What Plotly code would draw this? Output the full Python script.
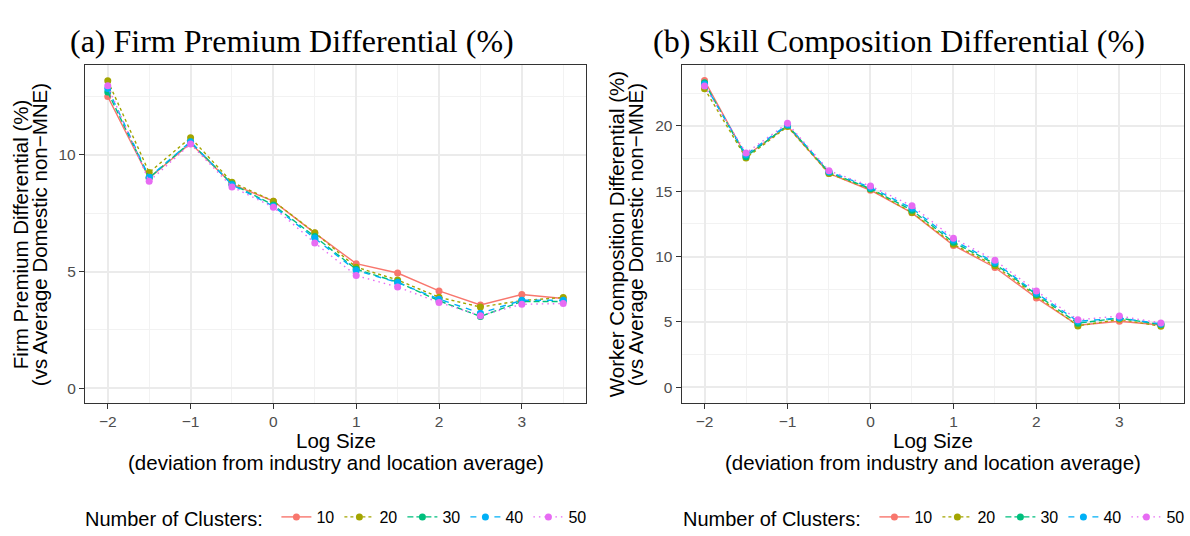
import plotly.graph_objects as go

x_vals = [-2, -1.5, -1, -0.5, 0, 0.5, 1, 1.5, 2, 2.5, 3, 3.5]
clusters = ["10", "20", "30", "40", "50"]

fp_10 = [12.50, 9.00, 10.50, 8.75, 8.02, 6.65, 5.34, 4.94, 4.17, 3.57, 4.02, 3.85]
fp_20 = [13.18, 9.25, 10.74, 8.83, 8.02, 6.67, 5.19, 4.64, 3.90, 3.48, 3.76, 3.89]
fp_30 = [12.70, 9.02, 10.55, 8.75, 7.85, 6.50, 5.10, 4.55, 3.75, 3.08, 3.72, 3.72]
fp_40 = [12.85, 9.04, 10.57, 8.72, 7.80, 6.44, 5.05, 4.53, 3.82, 3.22, 3.77, 3.77]
fp_50 = [12.96, 8.87, 10.47, 8.63, 7.76, 6.23, 4.83, 4.34, 3.68, 3.11, 3.60, 3.63]

sc_10 = [23.48, 17.70, 20.00, 16.36, 15.08, 13.35, 10.86, 9.17, 6.84, 4.75, 5.05, 4.77]
sc_20 = [22.85, 17.55, 19.95, 16.36, 15.15, 13.38, 10.95, 9.30, 7.00, 4.70, 5.20, 4.67]
sc_30 = [23.30, 17.65, 20.05, 16.45, 15.20, 13.55, 11.10, 9.45, 7.10, 4.90, 5.30, 4.80]
sc_40 = [23.20, 17.80, 20.10, 16.50, 15.30, 13.70, 11.25, 9.55, 7.20, 5.05, 5.30, 4.85]
sc_50 = [23.05, 17.93, 20.20, 16.57, 15.40, 13.89, 11.41, 9.72, 7.37, 5.17, 5.45, 4.92]

fp_series = [fp_10, fp_20, fp_30, fp_40, fp_50]
sc_series = [sc_10, sc_20, sc_30, sc_40, sc_50]

colors = ["#F8766D", "#A3A500", "#00BF7D", "#00B0F6", "#E76BF3"]
dashes = ["solid", "3px,3px", "6px,3px", "6px,6px", "1.5px,4px"]

W, H = 1190, 536
SANS = "Liberation Sans, Arial, sans-serif"
SERIF = "Liberation Serif, Times New Roman, serif"


def px(v):
    return v / W


def py(v):
    return 1 - v / H


fig = go.Figure()

for i, c in enumerate(clusters):
    fig.add_trace(go.Scatter(
        x=x_vals, y=fp_series[i], mode="lines+markers", name=c,
        line=dict(color=colors[i], width=1.4, dash=dashes[i]),
        marker=dict(color=colors[i], size=7),
        xaxis="x", yaxis="y", legend="legend"))
for i, c in enumerate(clusters):
    fig.add_trace(go.Scatter(
        x=x_vals, y=sc_series[i], mode="lines+markers", name=c,
        line=dict(color=colors[i], width=1.4, dash=dashes[i]),
        marker=dict(color=colors[i], size=7),
        xaxis="x2", yaxis="y2", legend="legend2"))

axis_common = dict(
    showline=True, mirror=True, linecolor="#333333", linewidth=1.3,
    ticks="outside", ticklen=5, tickwidth=1.3, tickcolor="#333333",
    tickfont=dict(family=SANS, size=15.5, color="#4D4D4D"),
    showgrid=True, gridcolor="#EBEBEB", gridwidth=1.6,
    zeroline=False,
)
minor_grid = dict(dtick=0.5, tick0=0, showgrid=True, gridcolor="#F2F2F2", gridwidth=1)
minor_grid_y = dict(dtick=2.5, tick0=0, showgrid=True, gridcolor="#F2F2F2", gridwidth=1)

legend_common = dict(
    orientation="h", y=py(521), yanchor="middle", xanchor="left",
    title=dict(text="Number of Clusters:\u00a0", side="left",
               font=dict(family=SANS, size=20, color="black")),
    font=dict(family=SANS, size=16, color="black"),
    entrywidth=18, entrywidthmode="pixels", itemwidth=30,
    bgcolor="rgba(0,0,0,0)",
)

fig.update_layout(
    width=W, height=H,
    margin=dict(l=0, r=0, t=0, b=0),
    paper_bgcolor="white", plot_bgcolor="white",
    showlegend=True,
    xaxis=dict(domain=[px(85), px(586)], range=[-2.275, 3.775],
               tickvals=[-2, -1, 0, 1, 2, 3], minor=minor_grid,
               anchor="y", **axis_common),
    yaxis=dict(domain=[py(405), py(65.7)], range=[-0.62, 13.84],
               tickvals=[0, 5, 10], minor=minor_grid_y,
               anchor="x", **axis_common),
    xaxis2=dict(domain=[px(681.7), px(1183.7)], range=[-2.275, 3.775],
                tickvals=[-2, -1, 0, 1, 2, 3], minor=minor_grid,
                anchor="y2", **axis_common),
    yaxis2=dict(domain=[py(405), py(65.7)], range=[-1.18, 24.64],
                tickvals=[0, 5, 10, 15, 20], minor=minor_grid_y,
                anchor="x2", **axis_common),
    legend=dict(x=px(83), **legend_common),
    legend2=dict(x=px(681), **legend_common),
)

# zero reference line
for xr, yr in [("x", "y"), ("x2", "y2")]:
    fig.add_shape(type="line", xref=f"{xr} domain", yref=yr, x0=0, x1=1, y0=0, y1=0,
                  line=dict(color="#BEBEBE", width=1.6), layer="below")

title_font = dict(family=SERIF, size=32, color="black")
lab_font = dict(family=SANS, size=20.5, color="black")

annotations = [
    dict(text="(a) Firm Premium Differential (%)", x=px(292), y=py(41), font=title_font),
    dict(text="(b) Skill Composition Differential (%)", x=px(899), y=py(41), font=title_font),
    # y-axis titles
    dict(text="Firm Premium Differential (%)", x=px(20.5), y=py(236), textangle=-90, font=lab_font),
    dict(text="(vs Average Domestic non\u2212MNE)", x=px(39.5), y=py(236), textangle=-90, font=lab_font),
    dict(text="Worker Composition Differential (%)", x=px(616.5), y=py(236), textangle=-90, font=lab_font),
    dict(text="(vs Average Domestic non\u2212MNE)", x=px(635.5), y=py(236), textangle=-90, font=lab_font),
    # x-axis titles
    dict(text="Log Size", x=px(335.5), y=py(443), font=lab_font),
    dict(text="(deviation from industry and location average)", x=px(335.5), y=py(465), font=lab_font),
    dict(text="Log Size", x=px(932.7), y=py(443), font=lab_font),
    dict(text="(deviation from industry and location average)", x=px(932.7), y=py(465), font=lab_font),
]
for a in annotations:
    fig.add_annotation(xref="paper", yref="paper", showarrow=False,
                       xanchor="center", yanchor="middle", **a)

# place the figure flush with the window corner (no default body margin), no modebar
fig.write_html(
    "out.html",
    config={"displayModeBar": False},
    post_script="document.body.style.margin='0';"
                "document.body.style.overflow='hidden';"
                "document.documentElement.style.overflow='hidden';",
)
